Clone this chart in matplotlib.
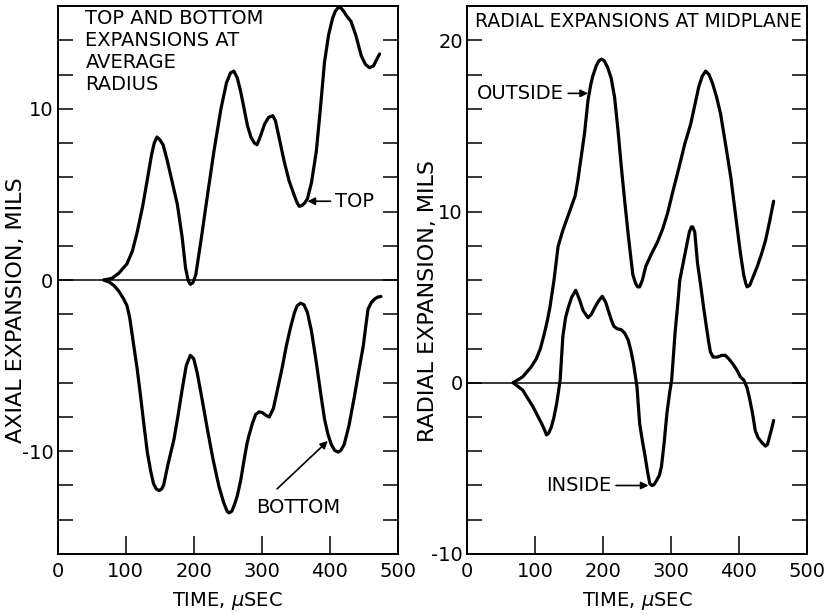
import numpy as np
import matplotlib
matplotlib.use("Agg")
import matplotlib.pyplot as plt

plt.rcParams['font.family'] = ['DejaVu Sans']

# axial expansion (left panel), time in microseconds, mils
top_t = [68, 80, 90, 102, 110, 117, 125, 132, 138, 142, 146, 150, 155, 161, 168,
         176, 183, 188, 192, 195, 199, 203, 211, 220, 230, 240, 248, 254, 259, 264,
         269, 274, 279, 284, 289, 293, 298, 304, 310, 316, 320, 326, 333, 340, 348,
         352, 355, 359, 363, 367, 373, 380, 386, 392, 398, 404, 408, 412, 416, 420,
         425, 431, 438, 446, 452, 458, 464, 469, 473]
top_v = [0, 0.1, 0.4, 0.95, 1.7, 2.8, 4.3, 5.9, 7.3, 8.0, 8.35, 8.2, 7.9, 7.0, 5.8,
         4.4, 2.5, 0.7, -0.05, -0.25, -0.15, 0.3, 2.4, 4.9, 7.6, 10, 11.5, 12.1, 12.2,
         11.8, 11.0, 10, 9.0, 8.35, 8.0, 7.9, 8.4, 9.1, 9.5, 9.6, 9.3, 8.2, 6.9, 5.8,
         4.9, 4.5, 4.3, 4.35, 4.5, 4.75, 5.7, 7.5, 10.0, 12.7, 14.3, 15.3, 15.7, 15.9,
         15.9, 15.7, 15.4, 15.1, 14.3, 13.1, 12.6, 12.4, 12.5, 12.9, 13.2]

bot_t = [68, 76, 83, 90, 97, 102, 106, 112, 117, 122, 127, 132, 137, 141, 145,
         149, 153, 156, 162, 171, 177, 183, 189, 195, 200, 205, 212, 220, 228, 237,
         244, 249, 252, 256, 260, 264, 269, 274, 278, 281, 286, 291, 296, 301, 306,
         311, 317, 323, 330, 336, 342, 348, 352, 357, 362, 367, 373, 380, 386, 392,
         397, 402, 407, 412, 416, 421, 428, 436, 442, 449, 453, 456, 461, 466, 470,
         475]
bot_v = [0, -0.12, -0.33, -0.65, -1.1, -1.5, -2.2, -3.85, -5.2, -6.8, -8.5, -10.1,
         -11.2, -11.9, -12.2, -12.3, -12.2, -11.95, -10.8, -9.3, -7.9, -6.4, -5.0,
         -4.4, -4.6, -5.4, -6.9, -8.7, -10.4, -12.05, -13.0, -13.5, -13.6, -13.5,
         -13.1, -12.6, -11.7, -10.5, -9.6, -9.1, -8.4, -7.85, -7.7, -7.75, -7.9, -8.0,
         -7.5, -6.4, -5.1, -3.85, -2.8, -1.9, -1.5, -1.35, -1.45, -1.9, -3.0, -4.8,
         -6.5, -8.1, -9.0, -9.6, -9.95, -10.05, -9.95, -9.6, -8.5, -6.8, -5.4, -3.85,
         -2.6, -1.7, -1.3, -1.1, -1.0, -0.96]

# radial expansion at midplane (right panel)
out_t = [68, 82, 94, 102, 108, 114, 118, 122, 128, 134, 141, 150, 159, 163, 168,
         173, 178, 182, 185, 190, 194, 198, 202, 207, 212, 217, 222, 227, 232, 237,
         241, 244, 248, 251, 254, 258, 263, 271, 280, 288, 295, 303, 312, 320, 329,
         335, 341, 346, 351, 356, 361, 367, 373, 380, 388, 395, 402, 407, 410, 412,
         416, 421, 427, 433, 439, 445, 451]
out_v = [0, 0.35, 0.9, 1.4, 2.0, 2.9, 3.6, 4.4, 6.0, 7.96, 8.9, 9.9, 10.9, 11.8, 13.2,
         14.6, 16.5, 17.4, 17.9, 18.5, 18.8, 18.9, 18.8, 18.4, 17.8, 16.7, 14.8, 12.6,
         10.6, 8.7, 7.3, 6.3, 5.8, 5.6, 5.6, 6.0, 6.8, 7.5, 8.2, 9.0, 9.9, 11.2, 12.6,
         13.9, 15.1, 16.2, 17.3, 17.9, 18.2, 18.0, 17.5, 16.7, 15.7, 14.0, 12.0, 9.8,
         7.6, 6.3, 5.8, 5.6, 5.7, 6.2, 6.8, 7.5, 8.3, 9.4, 10.6]

ins_t = [68, 82, 97, 110, 114, 117, 120, 124, 128, 132, 137, 141, 145, 149, 154,
         160, 165, 171, 178, 183, 188, 194, 199, 204, 208, 212, 216, 221, 227, 232,
         237, 241, 245, 250, 254, 258, 262, 266, 269, 272, 275, 279, 283, 286, 290,
         294, 298, 301, 306, 310, 313, 318, 322, 327, 330, 332, 335, 339, 344, 348,
         352, 355, 358, 362, 368, 375, 380, 385, 391, 397, 402, 407, 412, 416, 420,
         424, 428, 431, 435, 439, 442, 445, 448, 451]
ins_v = [0, -0.43, -1.4, -2.4, -2.75, -3.05, -2.95, -2.6, -2.0, -1.2, 0.15, 2.7, 3.8,
         4.4, 5.0, 5.4, 4.9, 4.2, 3.8, 4.0, 4.4, 4.8, 5.05, 4.7, 4.2, 3.7, 3.3, 3.15,
         3.1, 2.9, 2.5, 1.9, 1.1, -0.23, -2.4, -3.4, -4.3, -5.3, -5.9, -6.0, -5.95,
         -5.7, -5.4, -4.9, -3.5, -1.8, -0.6, 0.15, 2.9, 4.6, 6.0, 7.0, 7.8, 8.8, 9.1,
         9.1, 8.8, 7.0, 5.6, 4.4, 3.3, 2.5, 1.8, 1.5, 1.5, 1.6, 1.6, 1.4, 1.1, 0.74,
         0.35, 0.16, -0.3, -1.0, -1.8, -2.8, -3.2, -3.35, -3.55, -3.7, -3.6, -3.15,
         -2.7, -2.2]

x_ticks = [0, 100, 200, 300, 400, 500]
left_yticks = [-10, 0, 10]
right_yticks = [-10, 0, 10, 20]

fig = plt.figure(figsize=(8.29, 6.15), dpi=100)
ax1 = fig.add_axes([0.0694, 0.0992, 0.4107, 0.891])
ax2 = fig.add_axes([0.5633, 0.0992, 0.4101, 0.891])

fs = 14
curve = dict(color='black', lw=2.3, solid_joinstyle='round', solid_capstyle='round')
arrow = dict(arrowstyle='-|>', color='black', lw=1.2, mutation_scale=11,
             shrinkA=1, shrinkB=0)


def style(ax, ylim, yt):
    ax.set_xlim(0, 500)
    ax.set_ylim(*ylim)
    ax.axhline(0, color='black', lw=1.1)
    for s in ax.spines.values():
        s.set_linewidth(1.4)
    ax.set_xticks(x_ticks)
    ax.set_xticklabels([str(v) for v in x_ticks], fontsize=fs)
    ax.set_yticks(yt)
    ax.set_yticklabels([str(v) for v in yt], fontsize=fs)
    ax.set_yticks([v for v in range(ylim[0] + 2, ylim[1], 2) if v not in yt], minor=True)
    ax.tick_params(axis='x', direction='in', length=13, width=1.1, pad=6)
    ax.tick_params(axis='y', which='both', direction='in', length=11, width=1.1,
                   pad=3, right=True)
    ax.set_xlabel('TIME, $\\mu$SEC', fontsize=fs, labelpad=6)


style(ax1, (-16, 16), left_yticks)
ax1.plot(top_t, top_v, **curve)
ax1.plot(bot_t, bot_v, **curve)
ax1.set_ylabel('AXIAL EXPANSION, MILS', fontsize=16)
ax1.yaxis.set_label_coords(-0.092, 0.445)
ax1.text(41, 15.8, 'TOP AND BOTTOM\nEXPANSIONS AT\nAVERAGE\nRADIUS', fontsize=fs,
         ha='left', va='top', linespacing=1.2)
ax1.annotate('TOP', xy=(367, 4.6), xytext=(407, 4.6), fontsize=fs,
             ha='left', va='center', arrowprops=arrow)
ax1.annotate('', xy=(397, -9.4), xytext=(321, -12.25), arrowprops=arrow)
ax1.text(353, -13.3, 'BOTTOM', fontsize=fs, ha='center', va='center')

style(ax2, (-10, 22), right_yticks)
ax2.plot(out_t, out_v, **curve)
ax2.plot(ins_t, ins_v, **curve)
ax2.set_ylabel('RADIAL EXPANSION, MILS', fontsize=16)
ax2.yaxis.set_label_coords(-0.085, 0.462)
ax2.text(252, 21.1, 'RADIAL EXPANSIONS AT MIDPLANE', fontsize=13.5,
         ha='center', va='center')
ax2.annotate('OUTSIDE', xy=(178, 16.9), xytext=(15, 16.9), fontsize=fs,
             ha='left', va='center', arrowprops=arrow)
ax2.annotate('INSIDE', xy=(267, -6.0), xytext=(117, -6.0), fontsize=fs,
             ha='left', va='center', arrowprops=arrow)

fig.savefig('out.png', dpi=100)
